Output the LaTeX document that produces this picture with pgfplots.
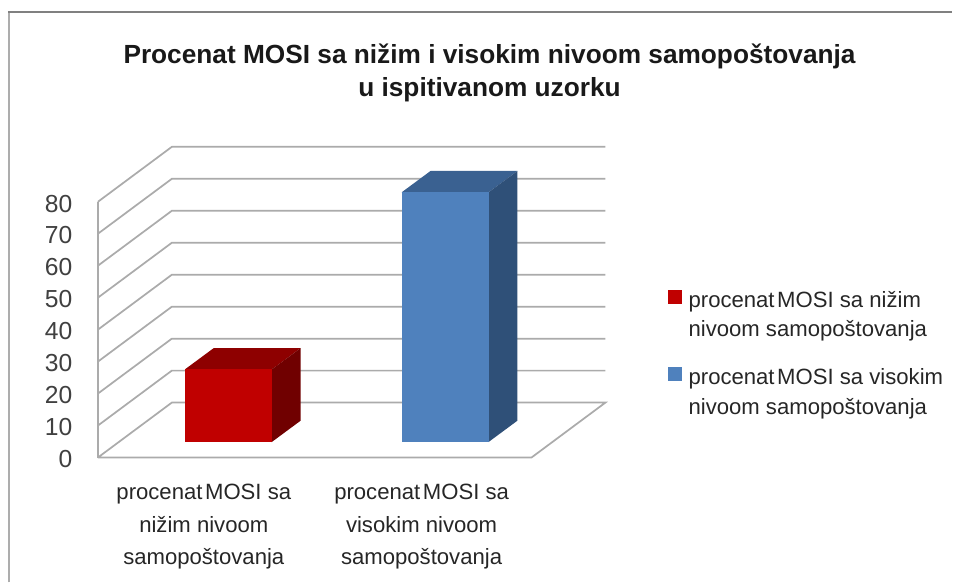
\documentclass[border=0pt]{standalone}
\usepackage{pgfplots}
\pgfplotsset{compat=1.18}
\usepackage{fontspec}
\setmainfont{Liberation Sans}
\definecolor{redF}{HTML}{C00000}
\definecolor{redT}{HTML}{8E0000}
\definecolor{redS}{HTML}{700000}
\definecolor{bluF}{HTML}{4F81BD}
\definecolor{bluT}{HTML}{3A6191}
\definecolor{bluS}{HTML}{2F5078}
\definecolor{gridc}{HTML}{ABABAB}
\begin{document}
\begin{tikzpicture}
\begin{axis}[
  scale only axis,
  width=714.75pt, height=437.25pt,
  xmin=0, xmax=953, ymin=-39.0625, ymax=143.125,
  clip=false,
  axis line style={draw=none},
  tick style={draw=none},
  major tick length=0pt,
  /pgf/number format/assume math mode=true,
  ytick={0,10,20,30,40,50,60,70,80},
  yticklabel style={anchor=east, xshift=54.5pt, yshift=-1.3pt, inner sep=0pt, font=\fontsize{18.5}{20}\selectfont, text=black!75},
  xtick={204,422},
  xticklabels={{procenat\hspace{-0.16em} MOSI sa\\nižim nivoom\\samopoštovanja},{procenat\hspace{-0.16em} MOSI sa\\visokim nivoom\\samopoštovanja}},
  xticklabel style={anchor=north, yshift=74pt, align=center, inner sep=0pt, font=\fontsize{16.6}{24.4}\selectfont, text=black!85},
  title={Procenat MOSI sa nižim i visokim nivoom samopoštovanja\\u ispitivanom uzorku},
  title style={at={(490/953,502/583)}, anchor=center, align=center, inner sep=0pt, font=\fontsize{19.7}{25.5}\selectfont\bfseries, text=black!90},
  legend style={at={(668/953,293/583)}, anchor=north west, draw=none, fill=none, inner sep=0pt, row sep=21.25pt,
    nodes={align=left, inner sep=0pt, font=\fontsize{16.6}{22.5}\selectfont, text=black!85}},
  legend cell align=left,
  wall/.style={draw=gridc, line width=1.3pt, forget plot},
]
% back wall and left wall grid lines
\addplot[wall] coordinates {(98,0) (172,17.19) (606,17.19) (532,0) (98,0)};
\addplot[wall] coordinates {(98,10) (172,27.19) (606,27.19)};
\addplot[wall] coordinates {(98,20) (172,37.19) (606,37.19)};
\addplot[wall] coordinates {(98,30) (172,47.19) (606,47.19)};
\addplot[wall] coordinates {(98,40) (172,57.19) (606,57.19)};
\addplot[wall] coordinates {(98,50) (172,67.19) (606,67.19)};
\addplot[wall] coordinates {(98,60) (172,77.19) (606,77.19)};
\addplot[wall] coordinates {(98,70) (172,87.19) (606,87.19)};
\addplot[wall] coordinates {(98,80) (172,97.19) (606,97.19)};
\addplot[wall] coordinates {(98,0) (98,80)};
% bar top and side faces
\addplot[fill=redT, draw=none, forget plot, y filter/.expression={y+4.85}] coordinates {(185,22.7) (214,29.4) (301,29.4) (272,22.7)} -- cycle;
\addplot[fill=redS, draw=none, forget plot, y filter/.expression={y+4.85}] coordinates {(272,0) (301,6.7) (301,29.4) (272,22.7)} -- cycle;
\addplot[fill=bluT, draw=none, forget plot, y filter/.expression={y+4.85}] coordinates {(402,78.1) (431,84.8) (518,84.8) (489,78.1)} -- cycle;
\addplot[fill=bluS, draw=none, forget plot, y filter/.expression={y+4.85}] coordinates {(489,0) (518,6.7) (518,84.8) (489,78.1)} -- cycle;
% bars (front faces)
\addplot[fill=redF, draw=none, y filter/.expression={y+4.85},
  legend image code/.code={\fill[redF] (-22.75pt,8.25pt) rectangle (-12.25pt,18.75pt); \path (-7pt,10pt) rectangle (-7pt,10pt);}]
  coordinates {(185,0) (185,22.7) (272,22.7) (272,0)} -- cycle;
\addlegendentry{procenat\hspace{-0.16em} MOSI sa nižim\\nivoom samopoštovanja}
\addplot[fill=bluF, draw=none, y filter/.expression={y+4.85},
  legend image code/.code={\fill[bluF] (-22.75pt,8.25pt) rectangle (-12.25pt,18.75pt); \path (-7pt,10pt) rectangle (-7pt,10pt);}]
  coordinates {(402,0) (402,78.1) (489,78.1) (489,0)} -- cycle;
\addlegendentry{procenat\hspace{-0.16em} MOSI sa visokim\\nivoom samopoštovanja}
% frame of the chart
\draw[draw=black!32, line width=1.6pt] (axis cs:9,-39.0625) -- (axis cs:9,139.4);
\draw[draw=black!50, line width=1.4pt] (axis cs:8,139.4) -- (axis cs:953,139.4);
\end{axis}
\end{tikzpicture}
\end{document}
